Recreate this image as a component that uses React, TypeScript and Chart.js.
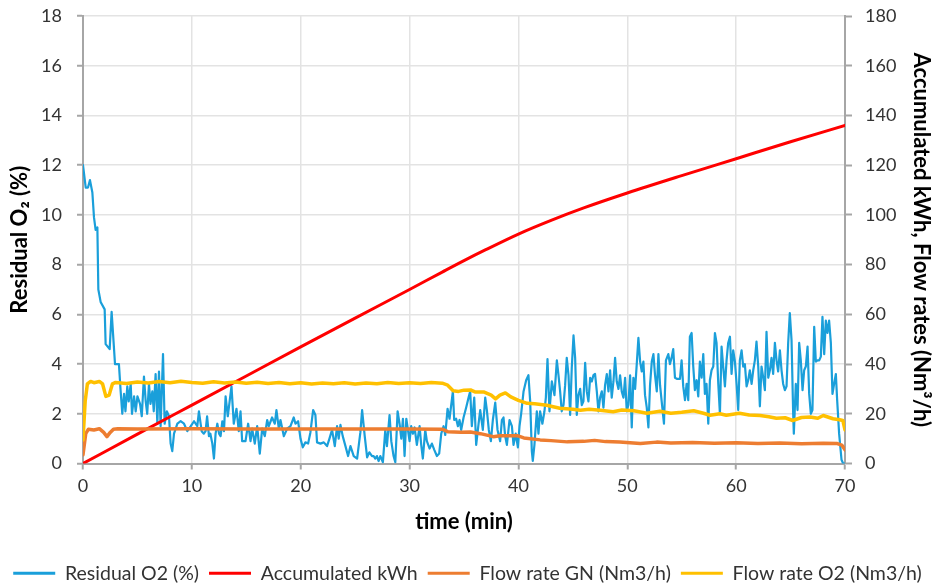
import React, { useEffect, useRef } from "react";
import { Chart, registerables } from "chart.js";

Chart.register(...registerables);

// Residual O2 (%) — left axis
const o2Time = [
  0, 0.25, 0.46, 0.64, 0.86, 1.01, 1.16, 1.32, 1.41, 1.62, 1.99, 2.08, 2.45, 2.63, 2.94, 3.3, 3.46, 3.61,
  3.77, 3.9, 4.07, 4.2, 4.38, 4.5, 4.69, 4.84, 5.0, 5.24, 5.4, 5.6, 5.76, 5.9, 6.06, 6.2, 6.37, 6.5, 6.67, 6.83,
  6.98, 7.13, 7.35, 7.5, 7.7, 7.9, 8.05, 8.2, 8.36, 8.67, 8.97, 9.28, 9.58, 9.9, 10.2, 10.5, 10.65, 10.9, 11.1,
  11.26, 11.4, 11.57, 11.7, 11.88, 12.03, 12.18, 12.34, 12.5, 12.64, 12.8, 12.95, 13.1, 13.3,
  13.64, 13.85, 14.1, 14.31, 14.47, 14.62, 14.93, 15.17, 15.39, 15.54, 15.78, 16.0, 16.24, 16.46, 16.7, 16.92,
  17.07, 17.37, 17.62, 17.77, 17.99, 18.14, 18.45, 18.75, 19.06, 19.36, 19.52, 19.76, 19.98, 20.19, 20.43, 20.68,
  20.89, 21.14, 21.35, 21.5, 21.81, 22.12, 22.42, 22.64, 22.88, 23.13, 23.34, 23.49, 23.65, 23.86, 24.11, 24.35,
  24.57, 24.87, 25.18, 25.48, 25.64, 25.88, 26.1, 26.31, 26.55,
  26.7, 26.85, 27.0, 27.15, 27.31, 27.55, 27.77, 27.92, 28.16, 28.32, 28.53, 28.69, 28.9, 29.08, 29.24, 29.39,
  29.54, 29.7, 29.85, 30.0, 30.15, 30.31, 30.46, 30.67, 30.92, 31.07, 31.22, 31.44, 31.59, 31.84, 32.05, 32.27,
  32.51, 32.72, 32.91, 33.12, 33.28, 33.49, 33.67, 33.98, 34.1, 34.28, 34.44, 34.59, 34.74, 34.96, 35.2, 35.42,
  35.57, 35.72, 35.94, 36.12, 36.34, 36.49, 36.73, 36.95, 37.1, 37.28, 37.47, 37.65, 37.87, 38.08, 38.32, 38.48,
  38.63, 38.78, 38.94, 39.18, 39.4, 39.55, 39.75, 39.95, 40.1,
  40.25, 40.47, 40.71, 40.92, 41.08, 41.23, 41.32, 41.47, 41.69, 41.84, 41.99, 42.2, 42.39, 42.52, 42.67, 42.85,
  43.07, 43.31, 43.53, 43.68, 43.83, 43.98, 44.14, 44.29, 44.44, 44.6, 44.75, 44.9, 45.06, 45.21, 45.36, 45.51,
  45.67, 45.82, 45.97, 46.13, 46.28, 46.43, 46.59, 46.74, 46.89, 47.04, 47.2, 47.35, 47.5, 47.66, 47.81, 47.96,
  48.12, 48.27, 48.42, 48.57, 48.73, 48.88, 49.03, 49.19, 49.34, 49.49, 49.65, 49.8, 49.95, 50.1, 50.26, 50.41,
  50.56, 50.72, 50.87, 51.02, 51.18, 51.33, 51.48, 51.63, 51.79, 51.94, 52.09, 52.25, 52.4, 52.55, 52.71, 52.86,
  53.01, 53.16,
  53.37, 53.55, 53.77, 53.92, 54.07, 54.22, 54.38, 54.59, 54.84, 54.99, 55.14, 55.3, 55.45, 55.6, 55.75, 55.91,
  56.06, 56.21, 56.37, 56.52, 56.67, 56.83, 56.98, 57.13, 57.28, 57.44, 57.59, 57.74, 57.9, 58.05, 58.2, 58.36,
  58.51, 58.66, 58.81, 58.97, 59.12, 59.27, 59.43, 59.58, 59.73, 59.89, 60.04, 60.19, 60.34, 60.5, 60.65, 60.8,
  60.96, 61.11, 61.26, 61.42, 61.57, 61.72, 61.87, 62.03, 62.18, 62.33, 62.49, 62.64, 62.79, 62.95, 63.1, 63.25,
  63.4, 63.56, 63.71, 63.86, 64.02, 64.17, 64.32, 64.48, 64.63, 64.78, 64.93, 65.09, 65.24, 65.3, 65.48, 65.64,
  65.79, 65.94, 66.1, 66.25, 66.4, 66.56, 66.71, 66.86, 67.01, 67.17, 67.32, 67.47, 67.63, 67.78, 67.93, 68.09,
  68.24, 68.39, 68.54, 68.7, 68.85, 69.0, 69.16, 69.28, 69.46, 69.68, 69.83, 70.0,
];
const o2Value = [
  12.0, 11.1, 11.1, 11.4, 10.9, 9.9, 9.4, 9.5, 7.0, 6.5, 6.2, 4.8, 4.6, 6.1, 4.0, 4.0, 2.9, 2.0,
  2.8, 2.1, 3.1, 2.5, 3.2, 2.0, 2.7, 2.1, 2.7, 2.4, 1.9, 3.5, 2.5, 2.0, 3.2, 2.4, 2.9, 2.1, 3.6, 1.6,
  3.7, 1.5, 4.4, 1.6, 2.1, 1.9, 0.8, 0.5, 1.2, 1.6, 1.7, 1.6, 1.3, 1.5, 1.7, 1.5, 2.1, 1.3, 1.2,
  1.3, 1.9, 1.1, 1.2, 0.8, 0.2, 1.2, 1.6, 1.2, 1.1, 1.7, 1.3, 2.7, 1.9,
  3.1, 1.6, 2.2, 1.3, 2.1, 0.9, 0.9, 1.6, 0.9, 1.4, 0.8, 1.5, 0.4, 1.4, 1.1, 1.75,
  1.5, 1.85, 1.6, 2.15, 1.4, 1.75, 1.1, 1.4, 1.5, 1.85, 1.6, 1.7, 1.0, 0.65, 0.85, 0.8,
  1.25, 2.15, 1.95, 0.85, 0.8, 0.85, 0.7, 1.0, 1.35, 0.7, 1.5, 1.0, 1.55, 1.1, 0.7, 0.3,
  0.7, 0.3, 0.2, 1.25, 2.15, 1.1, 0.25, 0.45, 0.3,
  0.3, 0.2, 0.3, 0.1, 0.3, 0.05, 1.35, 0.7, 1.95, 0.9, 0.3, 0.05, 2.1, 1.6, 1.0, 1.8,
  0.3, 1.8, 1.35, 0.9, 1.5, 1.2, 1.45, 0.75, 1.5, 0.75, 0.2, 1.35, 0.9, 0.6, 0.8, 0.55,
  0.3, 0.4, 1.2, 1.5, 1.15, 2.2, 1.8, 2.9, 1.75, 1.8, 1.5, 1.75, 1.35, 1.85, 2.25, 2.65,
  2.9, 1.5, 2.65, 0.75, 1.6, 2.15, 1.35, 2.65, 2.15, 1.35, 0.9, 1.75, 2.45, 1.35, 0.9, 1.75,
  1.85, 1.1, 0.75, 1.75, 1.5, 0.75, 1.2, 0.65, 1.5,
  2.0, 2.9, 3.35, 3.55, 2.5, 0.5, 0.1, 0.75, 2.1, 1.2, 2.1, 1.6, 2.1, 2.65, 4.2, 2.1,
  3.3, 2.75, 4.15, 3.55, 2.9, 2.1, 2.35, 3.15, 4.25, 3.55, 1.95, 3.85, 5.15, 4.25, 1.95, 2.75,
  3.0, 2.35, 2.5, 4.05, 2.9, 2.5, 3.45, 3.3, 3.55, 3.6, 2.9, 2.1, 2.65, 2.9, 2.25, 3.15,
  3.6, 2.9, 3.75, 2.65, 3.3, 4.25, 3.3, 3.0, 3.55, 2.9, 2.65, 3.45, 2.1, 2.35, 3.55, 1.45,
  3.45, 3.0, 4.0, 5.05, 4.1, 3.7, 4.1, 2.75, 2.25, 1.45, 3.15, 4.1, 4.4, 3.55, 2.9, 4.4,
  3.15, 2.5,
  1.6, 4.15, 4.4, 4.0, 4.25, 4.6, 3.45, 3.4, 3.4, 4.15, 3.1, 2.55, 3.2, 2.55, 5.1, 5.25,
  3.9, 2.95, 3.35, 2.7, 4.1, 3.45, 4.4, 2.8, 3.2, 1.6, 3.35, 3.75, 3.9, 5.25, 4.85, 3.2,
  2.0, 4.7, 3.9, 3.1, 4.15, 4.85, 5.1, 3.6, 4.55, 4.1, 3.2, 2.15, 4.15, 4.55, 3.9, 4.0,
  3.1, 3.35, 3.75, 3.2, 3.75, 4.15, 4.9, 3.9, 2.3, 3.9, 3.45, 2.95, 5.3, 3.45, 3.75, 4.25,
  3.6, 4.85, 4.15, 3.7, 4.55, 3.75, 3.2, 2.95, 3.1, 4.85, 6.05, 4.95, 2.0, 1.2, 3.2, 2.15,
  4.85, 4.15, 2.95, 3.75, 3.9, 4.7, 2.8, 2.0, 2.15, 5.5, 4.1, 4.15, 4.15, 4.3, 5.9, 4.4,
  5.75, 5.25, 5.75, 4.85, 2.8, 3.2, 3.6, 2.55, 1.2, 0.15, 0.0, 0.0,
];

// Accumulated kWh — right axis
const kwhTime = [0, 5, 10, 15, 20, 25, 30, 33, 35, 37, 40, 43, 46, 50, 55, 60, 65, 70];
const kwhValue = [0, 11.8, 23.5, 35.2, 46.9, 58.5, 70, 77, 81.6, 86, 92.3, 97.8, 102.8, 108.8, 115.8, 122.6, 129.4, 136];

// Flow rate GN (Nm3/h) — right axis
const gnTime = [
  0, 0.25, 0.5, 1.0, 1.5, 1.9, 2.2, 2.5, 2.8, 3.2, 5, 10, 15, 20, 25, 30, 33, 33.5, 34.7, 35.6, 36.5, 37.7,
  38.3, 39.9, 40.5, 42, 43, 44.5, 46, 47, 48, 49.3, 51.2, 52.7, 54, 56, 58, 60, 62, 64, 66, 68, 69.3, 69.7, 70,
];
const gnValue = [
  3.5, 12, 13.8, 13.5, 14.0, 12.5, 10.8, 12.5, 13.8, 14.0, 13.9, 14.0, 13.9, 13.9, 13.9, 13.9, 13.8, 12.8, 12.6,
  12.7, 12.0, 10.8, 11.2, 11.2, 10.3, 9.5, 9.2, 8.7, 8.9, 9.3, 8.8, 8.6, 8.0, 8.6, 8.2, 8.4, 8.1, 8.3, 8.0, 8.2,
  7.9, 8.1, 8.0, 7.4, 5.5,
];

// Flow rate O2 (Nm3/h) — right axis
const fo2Time = [
  0, 0.2, 0.4, 0.7, 1.0, 1.5, 1.8, 2.1, 2.4, 2.7, 3, 4, 5, 6, 7, 8, 9, 10, 11, 12, 13, 14, 15, 16, 17, 18, 19,
  20, 21, 22, 23, 24, 25, 26, 27, 28, 29, 30, 31, 32, 33, 33.5, 34, 34.5, 35, 35.6, 36, 36.8, 37.5, 37.9, 38.3,
  38.8, 39.3, 40, 40.8, 41.5, 42.6, 43.8, 45, 45.7, 46.5, 47.5, 48.7, 49.5, 50.6, 51.8, 53, 54, 55, 56.1, 57,
  57.6, 58.5, 59.1, 60.3, 61.2, 62.2, 63, 63.7, 64.5, 65.2, 66, 66.8, 67.5, 68, 68.9, 69.5, 69.8, 70,
];
const fo2Value = [
  9.5, 25, 32, 33, 32.5, 33, 32, 27, 27.5, 32, 32.6, 32.2, 32.8, 32.4, 33.0, 32.5, 33.1, 32.6, 32.3, 32.9, 32.4,
  32.8, 32.3, 32.7, 32.2, 32.6, 32.1, 32.5, 32.0, 32.4, 32.1, 32.5, 32.0, 32.4, 32.1, 32.6, 32.2, 32.5, 32.2,
  32.6, 32.3, 31.5, 29.3, 29.0, 29.5, 29.6, 28.8, 28.8, 27.5, 26.0, 27.5, 28.4, 26.8, 25.4, 24.2, 24.0, 23.4,
  22.2, 21.8, 21.4, 21.8, 21.4, 20.8, 21.5, 21.2, 20.2, 21.0, 20.2, 20.6, 21.2, 20.2, 19.4, 20.0, 19.4, 20.2,
  19.5, 19.3, 18.8, 18.2, 18.4, 17.3, 18.5, 18.7, 18.2, 19.3, 18.0, 17.6, 17.3, 13.5,
];

const xTicks = [0, 10, 20, 30, 40, 50, 60, 70];

const toPoints = (xs: number[], ys: number[]) => xs.map((x, i) => ({ x, y: ys[i] }));

const FONT = "Lato, 'Open Sans', sans-serif";
const AXIS = "#a6a6a6";
const GRID = "#e3e3e3";
const TXT = "#333333";

const legendShift = {
  id: "legendShift",
  afterLayout(chart: any) {
    const lg = chart.legend;
    if (lg) {
      lg.top += 6;
      lg.bottom += 6;
      if (lg.legendHitBoxes) lg.legendHitBoxes.forEach((h: any) => (h.top += 6));
    }
  },
};

export default function App() {
  const ref = useRef<HTMLCanvasElement | null>(null);

  useEffect(() => {
    if (!ref.current) return;
    const chart = new Chart(ref.current, {
      type: "line",
      plugins: [legendShift],
      data: {
        datasets: [
          {
            label: "Residual O2 (%)",
            data: toPoints(o2Time, o2Value),
            borderColor: "#1A9FDA",
            backgroundColor: "#1A9FDA",
            borderWidth: 2.2,
            yAxisID: "y",
            order: 4,
          },
          {
            label: "Accumulated kWh",
            data: toPoints(kwhTime, kwhValue),
            borderColor: "#FF0000",
            backgroundColor: "#FF0000",
            borderWidth: 3,
            cubicInterpolationMode: "monotone",
            yAxisID: "y1",
            order: 3,
          },
          {
            label: "Flow rate GN (Nm3/h)",
            data: toPoints(gnTime, gnValue),
            borderColor: "#ED7D31",
            backgroundColor: "#ED7D31",
            borderWidth: 3.5,
            yAxisID: "y1",
            order: 2,
          },
          {
            label: "Flow rate O2 (Nm3/h)",
            data: toPoints(fo2Time, fo2Value),
            borderColor: "#FFC000",
            backgroundColor: "#FFC000",
            borderWidth: 3.5,
            yAxisID: "y1",
            order: 1,
          },
        ],
      },
      options: {
        animation: false,
        responsive: false,
        maintainAspectRatio: false,
        layout: { padding: { top: 16, left: 0, right: 0, bottom: 0 } },
        elements: {
          point: { radius: 0, hoverRadius: 0 },
          line: { tension: 0, borderJoinStyle: "round", borderCapStyle: "round" },
        },
        plugins: {
          tooltip: { enabled: false },
          legend: {
            position: "bottom",
            labels: {
              usePointStyle: true,
              pointStyle: "line",
              pointStyleWidth: 42,
              padding: 10,
              color: TXT,
              font: { family: FONT, size: 19.5 },
              sort: (a: any, b: any) => a.datasetIndex - b.datasetIndex,
              generateLabels: (chart: any) => {
                const items = Chart.defaults.plugins.legend.labels.generateLabels(chart);
                return items.map((it: any) => ({ ...it, lineWidth: 3, pointStyle: "line" }));
              },
            },
          },
        },
        scales: {
          x: {
            type: "linear",
            min: 0,
            max: 70,
            afterBuildTicks: (s: any) => {
              s.ticks = xTicks.map((v) => ({ value: v }));
            },
            afterFit: (s: any) => {
              s.height = 84;
            },
            ticks: { color: TXT, font: { family: FONT, size: 18 }, padding: 6, maxRotation: 0 },
            grid: { color: GRID, lineWidth: 1.5, tickLength: 6, tickColor: AXIS, tickWidth: 2 },
            border: { display: true, color: AXIS, width: 2 },
            title: {
              display: true,
              text: "time (min)",
              color: "#000",
              font: { family: FONT, size: 22, weight: "bold" },
              padding: { top: 0, bottom: 12 },
            },
          },
          y: {
            type: "linear",
            position: "left",
            min: 0,
            max: 18,
            ticks: { stepSize: 2, color: TXT, font: { family: FONT, size: 18 }, padding: 15 },
            afterFit: (s: any) => {
              s.width = 83;
              s.paddingTop = 0;
              s.paddingBottom = 0;
            },
            grid: { color: GRID, lineWidth: 1.5, tickLength: 6, tickColor: AXIS, tickWidth: 2 },
            border: { display: true, color: AXIS, width: 2 },
            title: {
              display: true,
              text: "Residual O\u2082 (%)",
              color: "#000",
              font: { family: FONT, size: 22, weight: "bold" },
              padding: { top: 7, bottom: 0 },
            },
          },
          y1: {
            type: "linear",
            position: "right",
            min: 0,
            max: 180,
            ticks: { stepSize: 20, color: TXT, font: { family: FONT, size: 18 }, padding: 13 },
            afterFit: (s: any) => {
              s.width = 90;
              s.paddingTop = 0;
              s.paddingBottom = 0;
            },
            grid: { drawOnChartArea: false, tickLength: 7, tickColor: AXIS, tickWidth: 2 },
            border: { display: true, color: AXIS, width: 2 },
            title: {
              display: true,
              text: "Accumulated kWh, Flow rates (Nm\u00B3/h)",
              color: "#000",
              font: { family: FONT, size: 22, weight: "bold" },
              padding: { top: 1, bottom: 0 },
            },
          },
        },
      },
    });
    return () => chart.destroy();
  }, []);

  return (
    <div style={{ position: "absolute", left: 0, top: 0, width: 935, height: 587, background: "#fff" }}>
      <canvas ref={ref} width={935} height={587} style={{ width: 935, height: 587 }} />
    </div>
  );
}
